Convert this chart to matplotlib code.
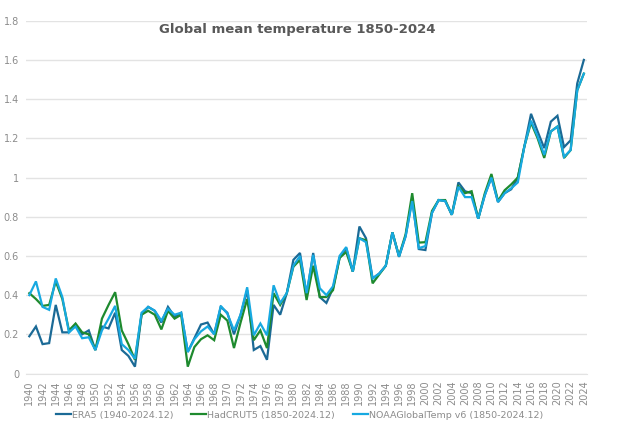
import matplotlib
matplotlib.use("Agg")
import matplotlib.pyplot as plt
import numpy as np

years = list(range(1940, 2025))

era5 = [0.19, 0.24, 0.15, 0.155, 0.35, 0.21, 0.21, 0.25, 0.20, 0.22,
        0.12, 0.24, 0.23, 0.31, 0.12, 0.09, 0.035, 0.30, 0.34, 0.32,
        0.26, 0.34, 0.29, 0.31, 0.11, 0.18, 0.25, 0.26, 0.20, 0.34,
        0.31, 0.20, 0.30, 0.425, 0.12, 0.14, 0.07, 0.35, 0.30, 0.41,
        0.58, 0.615, 0.40, 0.615, 0.39, 0.36, 0.435, 0.59, 0.64, 0.52,
        0.75, 0.69, 0.485, 0.51, 0.55, 0.72, 0.595, 0.70, 0.89, 0.635,
        0.63, 0.82, 0.885, 0.88, 0.81, 0.975, 0.93, 0.92, 0.79, 0.91,
        1.00, 0.875, 0.92, 0.94, 1.00, 1.16, 1.325, 1.235, 1.15, 1.285,
        1.315, 1.155, 1.19, 1.48, 1.60]

hadcrut5 = [0.41, 0.38, 0.345, 0.35, 0.47, 0.38, 0.22, 0.255, 0.21, 0.20,
            0.12, 0.28, 0.35, 0.415, 0.22, 0.15, 0.07, 0.30, 0.32, 0.30,
            0.225, 0.32, 0.28, 0.30, 0.035, 0.135, 0.175, 0.195, 0.17, 0.30,
            0.27, 0.13, 0.26, 0.38, 0.17, 0.22, 0.13, 0.41, 0.35, 0.41,
            0.545, 0.58, 0.375, 0.55, 0.39, 0.39, 0.425, 0.59, 0.62, 0.52,
            0.69, 0.68, 0.46, 0.505, 0.55, 0.72, 0.60, 0.71, 0.92, 0.668,
            0.67, 0.83, 0.885, 0.885, 0.81, 0.955, 0.92, 0.93, 0.79, 0.92,
            1.018, 0.88, 0.935, 0.965, 1.00, 1.16, 1.28, 1.20, 1.10, 1.235,
            1.26, 1.10, 1.14, 1.445, 1.53]

noaa = [0.40, 0.47, 0.34, 0.325, 0.485, 0.39, 0.21, 0.24, 0.18, 0.185,
        0.12, 0.22, 0.28, 0.345, 0.15, 0.12, 0.075, 0.31, 0.34, 0.32,
        0.27, 0.33, 0.30, 0.31, 0.11, 0.175, 0.215, 0.24, 0.20, 0.345,
        0.305, 0.22, 0.30, 0.44, 0.195, 0.255, 0.195, 0.45, 0.36, 0.41,
        0.55, 0.60, 0.41, 0.605, 0.435, 0.40, 0.445, 0.60, 0.645, 0.52,
        0.69, 0.67, 0.485, 0.51, 0.55, 0.72, 0.597, 0.70, 0.88, 0.64,
        0.65, 0.82, 0.885, 0.88, 0.81, 0.953, 0.90, 0.90, 0.79, 0.91,
        1.00, 0.875, 0.92, 0.945, 0.975, 1.16, 1.29, 1.21, 1.115, 1.235,
        1.26, 1.105, 1.14, 1.445, 1.53]

labels = ["ERA5 (1940-2024.12)", "HadCRUT5 (1850-2024.12)", "NOAAGlobalTemp v6 (1850-2024.12)"]
colors = ["#1b6a96", "#1e8a2e", "#17a9e1"]

fig = plt.figure(figsize=(6.2, 4.28), dpi=100)
ax = fig.add_axes([0.042, 0.1273, 0.905, 0.8243])

x = np.arange(len(years))
for series, lab, col in zip([era5, hadcrut5, noaa], labels, colors):
    ax.plot(x, series, color=col, lw=1.6, label=lab, solid_joinstyle="miter")

ax.set_xlim(-0.5, len(years) - 0.5)
ax.set_ylim(0, 1.8)

yt = np.arange(0, 1.81, 0.2)
ax.set_yticks(yt)
ax.set_yticklabels(["0", "0.2", "0.4", "0.6", "0.8", "1", "1.2", "1.4", "1.6", "1.8"])
ax.set_xticks(x[::2])
ax.set_xticklabels([str(y) for y in years[::2]], rotation=90)
ax.tick_params(axis="both", length=0, labelsize=7, labelcolor="#8c8c8c", pad=5)

ax.grid(axis="y", color="#e3e3e3", lw=1)
ax.set_axisbelow(True)
for s in ["top", "right", "left"]:
    ax.spines[s].set_visible(False)
ax.spines["bottom"].set_color("#e3e3e3")

fig.text(0.48, 0.93, "Global mean temperature 1850-2024", ha="center", va="center",
         fontsize=9.5, fontweight="bold", color="#595959")

fig.legend(loc="center", bbox_to_anchor=(0.483, 0.03), ncol=3, frameon=False,
           fontsize=6.8, handlelength=1.6, handletextpad=0.1, columnspacing=1.9,
           labelcolor="#8c8c8c")

fig.savefig("out.png", dpi=100)
